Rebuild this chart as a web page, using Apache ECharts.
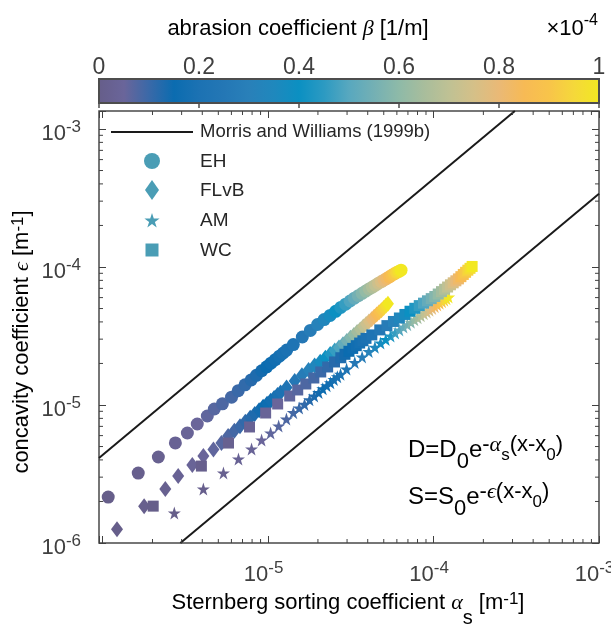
<!DOCTYPE html>
<html><head><meta charset="utf-8">
<script src="https://cdn.jsdelivr.net/npm/echarts@6/dist/echarts.min.js"></script>
<style>html,body{margin:0;padding:0;background:#fff}#c{width:611px;height:624px}</style>
</head><body><div id="c"></div>
<script>
// ---------------- data ----------------
// abrasion coefficient beta, in units of 1e-4 1/m (shared sampling of all four series)
const beta = [0,0.01,0.02,0.03,0.04,0.05,0.06,0.07,0.08,0.09,0.10,0.11,0.12,0.13,0.14,0.15,0.16,0.17,0.18,0.19,0.20,
  0.22,0.25,0.28,0.31,0.34,0.37,0.40,0.43,0.46,0.49,0.52,0.55,0.58,0.61,0.64,0.67,0.70,0.73,0.76,0.79,0.82,0.85,0.88,0.91,0.94,0.97,1.00];
// Sternberg sorting coefficient alpha_s and concavity coefficient eps, both in units of 1e-6 1/m
const alphaEH = [1.08,1.64,2.17,2.75,3.25,3.73,4.29,4.73,5.29,6.01,6.6,7.25,7.9,8.5,9.15,9.8,10.4,11.05,11.7,12.3,12.95,
  14.2,16.1,18.0,19.9,21.8,23.7,25.6,27.5,29.4,31.3,33.2,35.1,37.0,38.9,40.8,42.7,44.6,46.5,48.4,50.3,52.2,54.1,56.0,57.9,59.8,61.7,63.6];
const epsEH = [2.15,3.21,4.20,5.31,6.27,7.28,8.32,9.35,10.2,11.4,12.7,14.0,15.2,16.4,17.7,18.9,20.1,21.3,22.6,23.7,25.0,
  27.4,31.1,34.7,38.3,41.6,44.6,47.7,50.9,53.8,56.7,59.4,62.0,64.4,66.9,69.4,71.5,73.8,76.3,78.4,80.5,82.7,84.9,87.1,89.2,91.2,92.9,94.8];
const alphaFLvB = [1.22,1.78,2.39,2.86,3.48,4.06,4.67,5.22,5.73,6.25,6.76,7.28,7.79,8.3,8.82,9.33,9.85,10.36,10.87,11.39,11.9,
  12.93,14.47,16.01,17.56,19.1,20.64,22.18,23.72,25.27,26.81,28.35,29.89,31.44,32.98,34.52,36.06,37.6,39.15,40.69,42.23,43.77,45.32,46.86,48.4,49.94,51.48,53.0];
const epsFLvB = [1.26,1.85,2.46,3.06,3.68,4.27,4.75,5.31,5.95,6.5,7.0,7.55,8.1,8.6,9.15,9.7,10.2,10.75,11.25,11.8,12.3,
  13.4,14.9,16.4,17.9,19.3,20.6,22.0,23.4,24.8,26.1,27.6,29.1,30.7,32.2,33.8,35.3,37.0,38.6,40.3,41.8,43.6,45.3,46.9,48.6,50.4,52.3,54.1];
const alphaAM = [2.71,4.06,5.37,6.62,7.94,9.13,10.35,11.58,12.9,14.2,15.4,16.6,17.8,19.0,20.2,21.4,22.6,23.8,25.0,26.2,27.4,
  29.8,33.4,37.0,40.6,44.2,47.8,51.4,55.0,58.6,62.2,65.8,69.4,73.0,76.6,80.2,83.8,87.4,91.0,94.6,98.2,101.8,105.4,109.0,112.6,116.2,119.8,123.4];
const epsAM = [1.65,2.46,3.22,4.06,4.80,5.58,6.27,7.05,7.9,8.8,9.5,10.1,10.9,11.6,12.3,13.1,13.8,14.5,15.3,16.0,16.7,
  18.2,20.3,22.3,24.4,26.2,28.1,29.8,31.6,33.3,35.0,36.7,38.2,39.8,41.4,42.9,44.3,45.8,47.2,48.6,50.1,51.6,53.1,54.6,56.1,57.5,58.9,60.5];
const alphaWC = [2.02,3.95,5.76,7.72,9.66,11.42,13.5,15.1,16.9,18.9,20.8,22.9,25.2,27.5,29.15,30.8,32.45,34.1,35.75,37.4,39.05,
  42.35,47.3,52.25,57.2,62.15,67.1,72.05,77.0,81.95,86.9,91.85,96.8,101.75,106.7,111.65,116.6,121.55,126.5,131.45,136.4,141.35,146.3,151.25,156.2,161.15,166.1,171.05];
const epsWC = [1.85,3.61,5.30,6.93,8.75,10.17,11.62,12.85,14.2,15.69,17.35,18.86,20.5,22.0,23.3,24.5,25.7,26.9,28.1,29.2,30.4,
  32.2,35.0,37.6,40.3,42.7,45.3,47.8,50.2,52.5,54.7,56.9,59.0,61.1,63.7,66.3,69.0,71.6,74.3,76.8,79.4,82.0,85.1,88.3,91.5,94.8,97.8,100.9];
// Morris and Williams (1999b) envelope lines [alpha_s, eps]
const mwUpper = [[9.5e-7, 4.13e-6], [3.1e-4, 1.35e-3]];
const mwLower = [[2.95e-6, 1e-6], [1e-3, 3.39e-4]];
// series names / legend
const seriesNames = ['EH', 'FLvB', 'AM', 'WC'];
const mwName = 'Morris and Williams (1999b)';
// colour bar ticks
const cbTicks = [0, 0.2, 0.4, 0.6, 0.8, 1];
// colormap sampled from the colour bar, evenly spaced 0..1
const colormap = ['#665e8a','#6a659a','#3a69a8','#0b6cb0','#1c72b3','#2477b5','#2980b9','#1f88bd','#0b90c2','#2c9ac2','#58a8bf',
  '#74b0b4','#8ebaa8','#a8bd9c','#bfc194','#d5c088','#eab976','#f7ba55','#f8c44a','#f5d83a','#f2e822'];
// axis ranges and minor tick multipliers
const X_MIN = 9.5e-7, X_MAX = 1e-3, Y_MIN = 1e-6, Y_MAX = 1.35e-3;
const minorMult = [2,3,4,5,6,7,8,9];
const xDecades = [1e-6, 1e-5, 1e-4];
const yDecades = [1e-6, 1e-5, 1e-4];

// ---------------- styling ----------------
const AX = '#404040';
const TXT = '#262626';
const FONT = '"Liberation Sans", Arial, Helvetica, sans-serif';
const GREEK = '"Liberation Serif", "DejaVu Serif", serif';
const LEG = '#4a9db5';
const STAR = 'path://M100 0 L122.45 69.1 L195.1 69.1 L136.3 111.8 L158.8 180.9 L100 138.2 L41.2 180.9 L63.7 111.8 L4.9 69.1 L77.55 69.1 Z';

// rich text: vertical shift of a token = (padTop - padBottom)/2
const POWRICH = {
  b: {fontSize: 22, lineHeight: 22, padding: [10, 0, 0, 0], color: AX, fontFamily: FONT},
  s: {fontSize: 17, lineHeight: 17, padding: [0, 0, 4, 0], color: AX, fontFamily: FONT}
};
const POWRICH_X = {
  b: POWRICH.b,
  s: {fontSize: 17, lineHeight: 17, padding: [0, 9, 4, 0], color: AX, fontFamily: FONT}
};
function powLabel(v, hide) {
  const e = Math.log10(v), r = Math.round(e);
  if (Math.abs(e - r) > 1e-6) return '';
  if (hide !== null && r === hide) return '';
  return '{b|10}{s|' + r + '}';
}
const TITLERICH = {
  t: {fontSize: 22, lineHeight: 24, color: TXT, fontFamily: FONT},
  g: {fontSize: 22, lineHeight: 24, color: TXT, fontFamily: GREEK, fontStyle: 'italic'},
  sub: {fontSize: 20, lineHeight: 20, padding: [30, 0, 0, 0], color: TXT, fontFamily: FONT},
  sup: {fontSize: 17, lineHeight: 17, padding: [0, 0, 8, 0], color: TXT, fontFamily: FONT}
};
const EQRICH = {
  b: {fontSize: 24, lineHeight: 24, color: TXT, fontFamily: FONT},
  sub: {fontSize: 22, lineHeight: 22, padding: [24, 0, 0, 0], color: TXT, fontFamily: FONT},
  sup: {fontSize: 22, lineHeight: 22, padding: [0, 0, 10, 0], color: TXT, fontFamily: FONT},
  supg: {fontSize: 22, lineHeight: 22, padding: [0, 0, 10, 0], color: TXT, fontFamily: GREEK, fontStyle: 'italic'},
  supsub: {fontSize: 17, lineHeight: 17, padding: [10, 0, 0, 0], color: TXT, fontFamily: FONT}
};

function pts(a, e) { return beta.map((b, i) => [a[i] * 1e-6, e[i] * 1e-6, b]); }
const minorX = [], minorY = [];
xDecades.forEach(d => minorMult.forEach(m => { const v = d * m; if (v > X_MIN && v < X_MAX) minorX.push([v, 1e-5]); }));
yDecades.forEach(d => minorMult.forEach(m => { const v = d * m; if (v > Y_MIN && v < Y_MAX) minorY.push([1e-5, v]); }));

function tickLine(x1, y1, x2, y2) {
  return {type: 'line', shape: {x1, y1, x2, y2}, style: {stroke: AX, lineWidth: 1}};
}
function starPoints(cx, cy, R) {
  const p = [];
  for (let k = 0; k < 10; k++) {
    const r = k % 2 ? R * 0.382 : R;
    const a = -Math.PI / 2 + k * Math.PI / 5;
    p.push([cx + r * Math.cos(a), cy + r * Math.sin(a)]);
  }
  return p;
}

const chart = echarts.init(document.getElementById('c'), null, {renderer: 'canvas'});
const scatterBase = {type: 'scatter', xAxisIndex: 0, yAxisIndex: 0, silent: true,
  itemStyle: {opacity: 1}, emphasis: {disabled: true}};
const logAxisCommon = {type: 'log', logBase: 10, axisLine: {show: false}, splitLine: {show: false},
  axisTick: {show: true, inside: true, length: 7, lineStyle: {color: AX, width: 1}}};

const legendY = [161, 190, 220, 250];
const option = {
  animation: false,
  backgroundColor: '#ffffff',
  textStyle: {fontFamily: FONT},
  grid: [
    {left: 99, top: 111, width: 500, height: 432, show: true, borderColor: '#4a4a4a', borderWidth: 1.5,
     backgroundColor: 'rgba(0,0,0,0)', outerBoundsMode: 'none', containLabel: false},
    {left: 99, top: 79, width: 500, height: 24, show: false, outerBoundsMode: 'none', containLabel: false}
  ],
  xAxis: [
    Object.assign({}, logAxisCommon, {gridIndex: 0, min: X_MIN, max: X_MAX, position: 'bottom',
      axisLabel: {margin: 16, fontSize: 22, color: AX, formatter: v => powLabel(v, -6), rich: POWRICH_X}}),
    Object.assign({}, logAxisCommon, {gridIndex: 0, min: X_MIN, max: X_MAX, position: 'top', axisLabel: {show: false}}),
    {gridIndex: 1, type: 'value', min: 0, max: 1, interval: 0.2, position: 'top', z: 5,
     axisLine: {show: false}, splitLine: {show: false},
     axisTick: {show: true, inside: true, length: 5, lineStyle: {color: '#4d4d4d', width: 1.5}},
     axisLabel: {margin: 0, fontSize: 23, color: AX, fontFamily: FONT, lineHeight: 23,
       formatter: v => (cbTicks.indexOf(Math.round(v * 10) / 10) >= 0 ? String(Math.round(v * 10) / 10) : '')}}
  ],
  yAxis: [
    Object.assign({}, logAxisCommon, {gridIndex: 0, min: Y_MIN, max: Y_MAX, position: 'left',
      axisLabel: {margin: 18, fontSize: 22, color: AX, formatter: v => powLabel(v, null), rich: POWRICH}}),
    Object.assign({}, logAxisCommon, {gridIndex: 0, min: Y_MIN, max: Y_MAX, position: 'right', axisLabel: {show: false}}),
    {gridIndex: 1, type: 'value', min: 0, max: 1, show: false}
  ],
  visualMap: {type: 'continuous', show: false, min: 0, max: 1, dimension: 2, seriesIndex: [0, 1, 2, 3],
    inRange: {color: colormap}},
  series: [
    Object.assign({}, scatterBase, {name: seriesNames[0], symbol: 'circle', symbolSize: 13, data: pts(alphaEH, epsEH)}),
    Object.assign({}, scatterBase, {name: seriesNames[1], symbol: 'diamond', symbolSize: [12, 16], data: pts(alphaFLvB, epsFLvB)}),
    Object.assign({}, scatterBase, {name: seriesNames[2], symbol: STAR, symbolSize: 13, data: pts(alphaAM, epsAM)}),
    Object.assign({}, scatterBase, {name: seriesNames[3], symbol: 'rect', symbolSize: 11, data: pts(alphaWC, epsWC)}),
    {name: mwName, type: 'line', xAxisIndex: 0, yAxisIndex: 0, data: mwUpper, symbol: 'none', silent: true,
     lineStyle: {color: '#1a1a1a', width: 2}, clip: true, z: 3},
    {name: mwName + ' lower', type: 'line', xAxisIndex: 0, yAxisIndex: 0, data: mwLower, symbol: 'none', silent: true,
     lineStyle: {color: '#1a1a1a', width: 2}, clip: true, z: 3},
    {type: 'custom', xAxisIndex: 0, yAxisIndex: 0, data: minorX, silent: true, z: 4,
     renderItem: (params, api) => {
       const cs = params.coordSys; const x = api.coord([api.value(0), 1e-5])[0];
       const b = cs.y + cs.height;
       return {type: 'group', children: [tickLine(x, b, x, b - 4), tickLine(x, cs.y, x, cs.y + 4)]};
     }},
    {type: 'custom', xAxisIndex: 0, yAxisIndex: 0, data: minorY, silent: true, z: 4,
     renderItem: (params, api) => {
       const cs = params.coordSys; const y = api.coord([1e-5, api.value(1)])[1];
       const r = cs.x + cs.width;
       return {type: 'group', children: [tickLine(cs.x, y, cs.x + 4, y), tickLine(r, y, r - 4, y)]};
     }},
    {type: 'custom', xAxisIndex: 2, yAxisIndex: 2, data: [[0, 0]], silent: true, z: 1,
     renderItem: (params, api) => {
       const p0 = api.coord([0, 1]), p1 = api.coord([1, 0]);
       const stops = colormap.map((c, i) => ({offset: i / (colormap.length - 1), color: c}));
       const shape = {x: p0[0], y: p0[1], width: p1[0] - p0[0], height: p1[1] - p0[1]};
       return {type: 'group', children: [
         {type: 'rect', shape, style: {fill: new echarts.graphic.LinearGradient(0, 0, 1, 0, stops)}},
         {type: 'rect', shape, style: {fill: 'none', stroke: '#4d4d4d', lineWidth: 2}}
       ]};
     }}
  ],
  graphic: [
    // colour bar title and multiplier
    {type: 'text', x: 298, y: 29, z: 100, style: {text: '{t|abrasion coefficient }{g|β}{t| [1/m]}',
      align: 'center', verticalAlign: 'middle', textAlign: 'center', textVerticalAlign: 'middle',
      rich: {t: {fontSize: 22, lineHeight: 26, color: TXT, fontFamily: FONT},
             g: {fontSize: 22, lineHeight: 26, color: TXT, fontFamily: GREEK, fontStyle: 'italic'}}}},
    {type: 'text', x: 598, y: 29, z: 100, style: {text: '{t|×10}{sup|-4}',
      align: 'right', verticalAlign: 'middle', textAlign: 'right', textVerticalAlign: 'middle',
      rich: {t: {fontSize: 22, lineHeight: 22, color: AX, fontFamily: FONT},
             sup: {fontSize: 16, lineHeight: 16, padding: [0, 0, 16, 0], color: AX, fontFamily: FONT}}}},
    // axis titles
    {type: 'text', x: 348, y: 591, z: 100, style: {text: '{t|Sternberg sorting coefficient }{g|α}{sub|s}{t| [m}{sup|-1}{t|]}',
      align: 'center', verticalAlign: 'top', textAlign: 'center', textVerticalAlign: 'top', rich: TITLERICH}},
    {type: 'text', x: 10, y: 342, rotation: Math.PI / 2, z: 100, style: {text: '{t|concavity coefficient }{g|ϵ}{t| [m}{sup|-1}{t|]}',
      align: 'center', verticalAlign: 'top', textAlign: 'center', textVerticalAlign: 'top', rich: TITLERICH}},
    // legend
    {type: 'line', z: 100, shape: {x1: 111, y1: 132, x2: 193, y2: 132}, style: {stroke: '#1a1a1a', lineWidth: 2}},
    {type: 'text', x: 200, y: 132, z: 100, style: {text: mwName, fill: TXT, font: '18.5px ' + FONT,
      verticalAlign: 'middle', textVerticalAlign: 'middle'}},
    {type: 'circle', z: 100, shape: {cx: 152, cy: legendY[0], r: 8}, style: {fill: LEG}},
    {type: 'polygon', z: 100, shape: {points: [[152, legendY[1] - 10], [159, legendY[1]], [152, legendY[1] + 10], [145, legendY[1]]]}, style: {fill: LEG}},
    {type: 'polygon', z: 100, shape: {points: starPoints(152, legendY[2] + 1, 8)}, style: {fill: LEG}},
    {type: 'rect', z: 100, shape: {x: 145.5, y: legendY[3] - 6.5, width: 13, height: 13}, style: {fill: LEG}}
  ].concat(seriesNames.map((n, i) => ({type: 'text', x: 200, y: legendY[i] + 1, z: 100,
      style: {text: n, fill: TXT, font: '19px ' + FONT, verticalAlign: 'middle', textVerticalAlign: 'middle'}})))
   .concat([
    // equations
    {type: 'text', x: 408, y: 438, z: 100, style: {text: '{b|D=D}{sub|0}{b|e}{sup|-}{supg|α}{supsub|s}{sup|(x-x}{supsub|0}{sup|)}',
      align: 'left', verticalAlign: 'top', textAlign: 'left', textVerticalAlign: 'top', rich: EQRICH}},
    {type: 'text', x: 408, y: 485, z: 100, style: {text: '{b|S=S}{sub|0}{b|e}{sup|-}{supg|ϵ}{sup|(x-x}{supsub|0}{sup|)}',
      align: 'left', verticalAlign: 'top', textAlign: 'left', textVerticalAlign: 'top', rich: EQRICH}}
  ])
};
chart.setOption(option);
</script>
</body></html>
